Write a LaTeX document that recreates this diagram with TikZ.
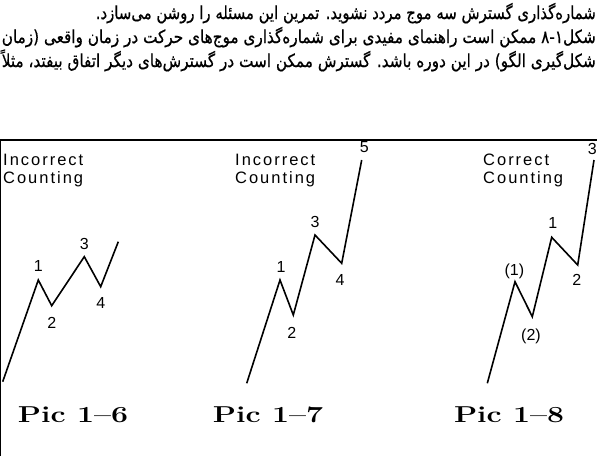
\documentclass[tikz,border=0pt]{standalone}
\usepackage{fontspec}
\usepackage{graphicx}
\newfontfamily\labfont{Liberation Sans}
\newfontfamily\headfont[LetterSpace=12]{Liberation Sans}
\newfontfamily\fafont[Script=Arabic,FakeBold=0.7]{DejaVu Sans}
\TeXXeTstate=1
\newcommand{\nj}{\kern0pt{}}
\begin{document}
\begin{tikzpicture}[x=1pt,y=-1pt,
  wave/.style={line width=1.6pt, line join=miter},
  frameline/.style={line width=1.1pt},
  num/.style={font=\labfont\fontsize{16}{16}\selectfont, inner sep=0pt},
  head/.style={font=\headfont\fontsize{16.5}{16.5}\selectfont, inner sep=0pt, anchor=base west},
  piclab/.style={font=\fontsize{23}{23}\selectfont\bfseries, inner sep=0pt, anchor=base},
  faline/.style={font=\fafont\fontsize{18}{18}\selectfont, inner sep=0pt, anchor=base east}
]
\useasboundingbox (0,0) rectangle (597,456);

% Persian text lines
\node[faline] (t1) at (596,19) {\resizebox{500pt}{\height}{\beginR شماره\nj گذاری گسترش سه موج مردد نشوید. تمرین این مسئله را روشن می\nj سازد.\endR}};
\node[faline] (t2) at (596,43) {\resizebox{594pt}{\height}{\beginR شکل۱-۸ ممکن است راهنمای مفیدی برای شماره\nj گذاری موج\nj های حرکت در زمان واقعی (زمان\endR}};
\node[faline] (t3) at (596,67) {\resizebox{594pt}{\height}{\beginR شکل\nj گیری الگو) در این دوره باشد. گسترش ممکن است در گسترش\nj های دیگر اتفاق بیفتد، مثلاً\endR}};

% frame
\coordinate (fa) at (0.6,456);
\coordinate (fb) at (0.6,140);
\coordinate (fc) at (597,140);
\draw[frameline] (fa) -- (fb) -- (fc);

% Panel 1
\node[head] (h1a) at (3,165) {Incorrect};
\node[head] (h1b) at (3,183) {Counting};
\coordinate (a0) at (2.7,381.7);
\coordinate (a1) at (38.3,280);
\coordinate (a2) at (51.7,305.7);
\coordinate (a3) at (84.3,256.7);
\coordinate (a4) at (100.7,286.7);
\coordinate (a5) at (118.3,241.7);
\draw[wave] (a0) -- (a1) -- (a2) -- (a3) -- (a4) -- (a5);
\node[num] (na1) at (38.3,266) {1};
\node[num] (na2) at (51.7,322.7) {2};
\node[num] (na3) at (84.3,244.3) {3};
\node[num] (na4) at (100.7,303.3) {4};
\node[piclab] (p1) at (73,422) {\resizebox{110pt}{\height}{Pic 1–6}};

% Panel 2
\node[head] (h2a) at (235,165) {Incorrect};
\node[head] (h2b) at (235,183) {Counting};
\coordinate (b0) at (246.7,383.3);
\coordinate (b1) at (280,280);
\coordinate (b2) at (293.3,315);
\coordinate (b3) at (315,235);
\coordinate (b4) at (341.7,263.3);
\coordinate (b5) at (361.7,160);
\draw[wave] (b0) -- (b1) -- (b2) -- (b3) -- (b4) -- (b5);
\node[num] (nb1) at (281,266.7) {1};
\node[num] (nb2) at (291.7,333.3) {2};
\node[num] (nb3) at (315,221.7) {3};
\node[num] (nb4) at (340,280) {4};
\node[num] (nb5) at (364.3,147.5) {5};
\node[piclab] (p2) at (268,422) {\resizebox{110pt}{\height}{Pic 1–7}};

% Panel 3
\node[head] (h3a) at (483,165) {Correct};
\node[head] (h3b) at (483,183) {Counting};
\coordinate (c0) at (487.3,383.3);
\coordinate (c1) at (515,281.7);
\coordinate (c2) at (532.3,316.7);
\coordinate (c3) at (551.7,237.3);
\coordinate (c4) at (577.7,265);
\coordinate (c5) at (594,160);
\draw[wave] (c0) -- (c1) -- (c2) -- (c3) -- (c4) -- (c5);
\node[num] (nc1) at (514.3,271) {(1)};
\node[num] (nc2) at (531,336) {(2)};
\node[num] (nc3) at (552.7,222.7) {1};
\node[num] (nc4) at (576.7,280) {2};
\node[num, anchor=east] (nc5) at (597,149) {3};
\node[piclab] (p3) at (509,422) {\resizebox{110pt}{\height}{Pic 1–8}};
\end{tikzpicture}
\end{document}
